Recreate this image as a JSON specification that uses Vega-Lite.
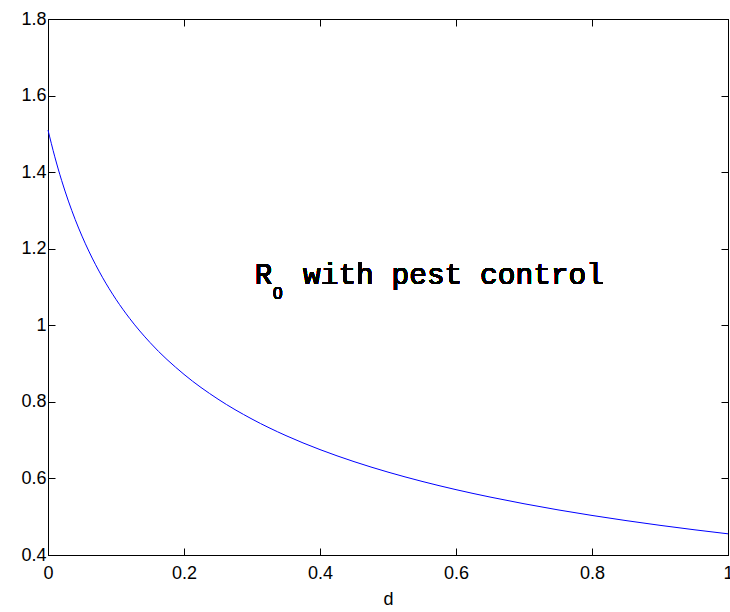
{
  "$schema": "https://vega.github.io/schema/vega-lite/v6.json",
  "width": 680,
  "height": 536,
  "autosize": "none",
  "padding": {"left": 48, "top": 19, "right": 2, "bottom": 57},
  "background": "white",
  "config": {
    "view": {"stroke": "black", "strokeWidth": 1},
    "axis": {
      "grid": false,
      "domainColor": "black",
      "domainWidth": 1,
      "tickColor": "black",
      "tickSize": -7,
      "labelFont": "Liberation Sans",
      "labelFontSize": 18,
      "labelColor": "black",
      "titleFont": "Liberation Sans",
      "titleFontSize": 18,
      "titleFontWeight": "normal",
      "titleColor": "black"
    }
  },
  "data": {
    "values": [
      {"d": 0, "R0": 1.51},
      {"d": 0.01, "R0": 1.44},
      {"d": 0.02, "R0": 1.3785},
      {"d": 0.03, "R0": 1.3244},
      {"d": 0.04, "R0": 1.2762},
      {"d": 0.05, "R0": 1.2329},
      {"d": 0.06, "R0": 1.1938},
      {"d": 0.08, "R0": 1.1255},
      {"d": 0.1, "R0": 1.0677},
      {"d": 0.12, "R0": 1.0181},
      {"d": 0.15, "R0": 0.955},
      {"d": 0.2, "R0": 0.8718},
      {"d": 0.25, "R0": 0.8071},
      {"d": 0.3, "R0": 0.755},
      {"d": 0.35, "R0": 0.7118},
      {"d": 0.4, "R0": 0.6753},
      {"d": 0.45, "R0": 0.6439},
      {"d": 0.5, "R0": 0.6165},
      {"d": 0.55, "R0": 0.5923},
      {"d": 0.6, "R0": 0.5707},
      {"d": 0.65, "R0": 0.5514},
      {"d": 0.7, "R0": 0.5339},
      {"d": 0.75, "R0": 0.5179},
      {"d": 0.8, "R0": 0.5033},
      {"d": 0.85, "R0": 0.4899},
      {"d": 0.9, "R0": 0.4775},
      {"d": 0.95, "R0": 0.466},
      {"d": 1.0, "R0": 0.4553}
    ]
  },
  "resolve": {"axis": {"x": "independent", "y": "independent"}},
  "layer": [
    {
      "mark": {"type": "line", "color": "#0000FF", "strokeWidth": 1, "interpolate": "monotone"},
      "encoding": {
        "x": {
          "field": "d", "type": "quantitative",
          "scale": {"domain": [0, 1], "nice": false, "zero": false},
          "axis": {"orient": "bottom", "values": [0, 0.2, 0.4, 0.6, 0.8, 1], "format": "~g", "labelPadding": 16, "title": "d", "titlePadding": 8, "labelFlush": false}
        },
        "y": {
          "field": "R0", "type": "quantitative",
          "scale": {"domain": [0.4, 1.8], "nice": false, "zero": false},
          "axis": {"orient": "left", "values": [0.4, 0.6, 0.8, 1, 1.2, 1.4, 1.6, 1.8], "format": "~g", "labelPadding": 9, "title": null, "labelFlush": false}
        }
      }
    },
    {
      "mark": {"type": "line", "strokeOpacity": 0},
      "encoding": {
        "x": {
          "field": "d", "type": "quantitative",
          "scale": {"domain": [0, 1], "nice": false, "zero": false},
          "axis": {"orient": "top", "values": [0, 0.2, 0.4, 0.6, 0.8, 1], "labels": false, "title": null}
        },
        "y": {
          "field": "R0", "type": "quantitative",
          "scale": {"domain": [0.4, 1.8], "nice": false, "zero": false},
          "axis": {"orient": "right", "values": [0.4, 0.6, 0.8, 1, 1.2, 1.4, 1.6, 1.8], "labels": false, "title": null}
        }
      }
    },
    {
      "mark": {"type": "text", "font": "Liberation Mono", "fontSize": 29, "align": "left", "baseline": "alphabetic", "color": "black"},
      "encoding": {
        "x": {"datum": 0.304, "type": "quantitative", "axis": null},
        "y": {"datum": 1.108, "type": "quantitative", "axis": null},
        "text": {"value": "R"}
      }
    },
    {
      "mark": {"type": "text", "font": "Liberation Sans", "fontSize": 17, "align": "left", "baseline": "alphabetic", "color": "black"},
      "encoding": {
        "x": {"datum": 0.331, "type": "quantitative", "axis": null},
        "y": {"datum": 1.069, "type": "quantitative", "axis": null},
        "text": {"value": "0"}
      }
    },
    {
      "mark": {"type": "text", "font": "Liberation Mono", "fontSize": 29.5, "align": "left", "baseline": "alphabetic", "color": "black"},
      "encoding": {
        "x": {"datum": 0.375, "type": "quantitative", "axis": null},
        "y": {"datum": 1.108, "type": "quantitative", "axis": null},
        "text": {"value": "with pest control"}
      }
    }
  ]
}
